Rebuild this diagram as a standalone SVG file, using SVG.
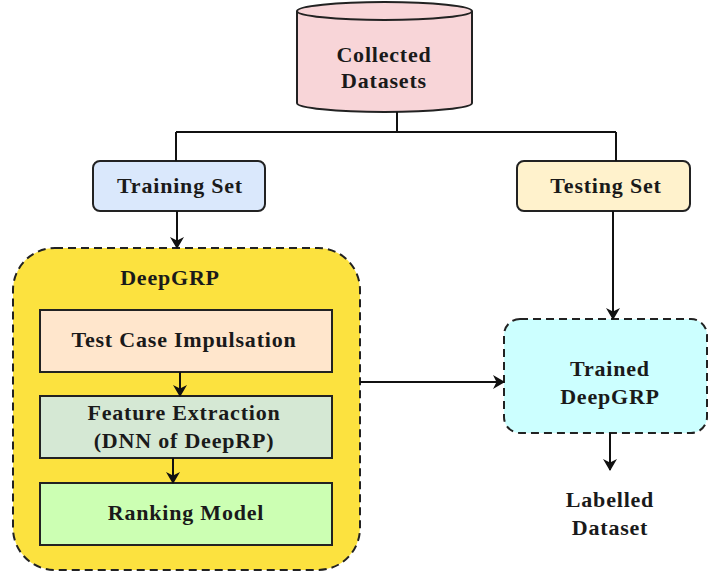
<svg xmlns="http://www.w3.org/2000/svg" width="710" height="579" viewBox="0 0 710 579">
  <defs>
    <marker id="arrow" viewBox="0 0 12 14" refX="11" refY="7" markerWidth="12" markerHeight="14" markerUnits="userSpaceOnUse" orient="auto">
      <path d="M0,0 L12,7 L0,14 L3.5,7 Z" fill="#111"/>
    </marker>
    <style>
      .lbl { font-family: "Liberation Serif", "Times New Roman", serif; font-weight: bold; font-size: 22px; letter-spacing: 0.8px; fill: #1a1a1a; text-anchor: middle; }
      .box { stroke: #222; stroke-width: 2; }
      .dash { stroke: #222; stroke-width: 2; stroke-dasharray: 8 5; }
      .wire { fill: none; stroke: #111; stroke-width: 2; }
    </style>
  </defs>
  <rect width="710" height="579" fill="#ffffff"/>

  <!-- collected datasets (cylinder) -->
  <g id="collected-datasets">
    <path class="box" fill="#f8d5d8" d="M297,11 V103 A87.5,9 0 0 0 472,103 V11 A87.5,9 0 0 0 297,11 Z"/>
    <path class="box" fill="none" d="M297,11 A87.5,9 0 0 0 472,11"/>
    <text class="lbl" x="384" y="62">Collected</text>
    <text class="lbl" x="384" y="88">Datasets</text>
  </g>

  <g id="training-set">
    <rect class="box" x="93" y="161" width="172" height="50" rx="7" fill="#dae8fc"/>
    <text class="lbl" x="180" y="193">Training Set</text>
  </g>

  <g id="testing-set">
    <rect class="box" x="517" y="161" width="173" height="50" rx="7" fill="#fff2cc"/>
    <text class="lbl" x="606" y="193">Testing Set</text>
  </g>

  <!-- DeepGRP container -->
  <g id="deepgrp">
    <rect class="dash" x="13" y="248" width="347" height="322" rx="42" fill="#fce23f"/>
    <text class="lbl" x="170" y="285">DeepGRP</text>
  </g>

  <g id="test-case-impulsation">
    <rect class="box" x="40" y="310" width="292" height="62" fill="#ffe6cc"/>
    <text class="lbl" x="184" y="347">Test Case Impulsation</text>
  </g>

  <g id="feature-extraction">
    <rect class="box" x="40" y="396" width="292" height="62" fill="#d5e8d4"/>
    <text class="lbl" x="184" y="420">Feature Extraction</text>
    <text class="lbl" x="184" y="448">(DNN of DeepRP)</text>
  </g>

  <g id="ranking-model">
    <rect class="box" x="40" y="483" width="292" height="62" fill="#ccffb3"/>
    <text class="lbl" x="186" y="520">Ranking Model</text>
  </g>

  <g id="trained-deepgrp">
    <rect class="dash" x="504" y="319" width="203" height="114" rx="16" fill="#ccffff"/>
    <text class="lbl" x="610" y="376">Trained</text>
    <text class="lbl" x="610" y="404">DeepGRP</text>
  </g>

  <g id="labelled-dataset">
    <text class="lbl" x="610" y="507">Labelled</text>
    <text class="lbl" x="610" y="535">Dataset</text>
  </g>

  <!-- connectors, drawn last so arrowheads sit on top of the boxes -->
  <g id="connectors">
    <path class="wire" d="M397,112 V132 M176,132 H616 M176,132 V161 M616,132 V161"/>
    <path class="wire" d="M177,211 V248" marker-end="url(#arrow)"/>
    <path class="wire" d="M613,211 V319" marker-end="url(#arrow)"/>
    <path class="wire" d="M360,382 H504" marker-end="url(#arrow)"/>
    <path class="wire" d="M180,372 V396" marker-end="url(#arrow)"/>
    <path class="wire" d="M173,458 V483" marker-end="url(#arrow)"/>
    <path class="wire" d="M610,433 V470" marker-end="url(#arrow)"/>
  </g>
</svg>
